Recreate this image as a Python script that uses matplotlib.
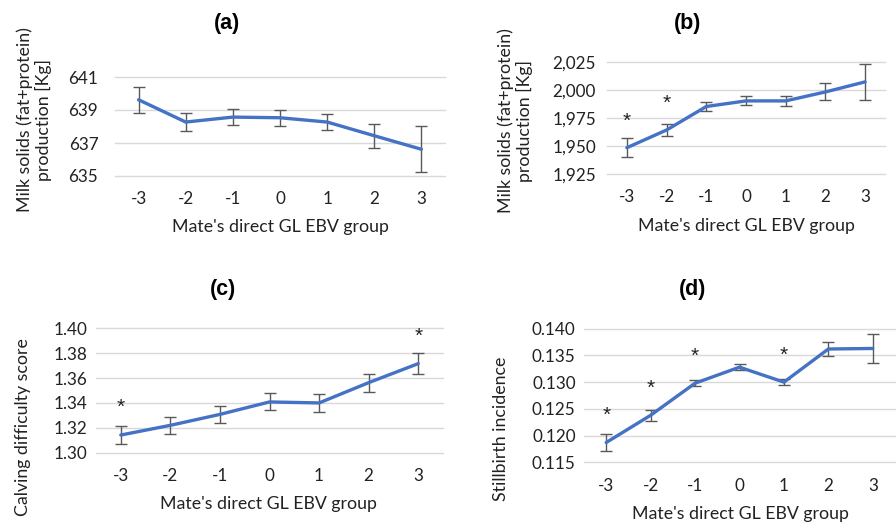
import matplotlib
matplotlib.use("Agg")
import matplotlib.pyplot as plt
import matplotlib.ticker as mticker
import numpy as np

plt.rcParams["font.family"] = ["Lato", "DejaVu Sans"]
plt.rcParams["axes.unicode_minus"] = False

groups = [-3, -2, -1, 0, 1, 2, 3]

# (a) milk solids, first data set
milk_a = [639.62, 638.27, 638.57, 638.53, 638.27, 637.44, 636.62]
milk_a_err = [0.78, 0.55, 0.48, 0.47, 0.50, 0.73, 1.40]

# (b) milk solids, second data set
milk_b = [1948.2, 1964.0, 1985.0, 1990.0, 1990.0, 1998.0, 2007.0]
milk_b_err = [8.3, 5.4, 4.1, 4.0, 4.5, 7.6, 16.0]
milk_b_stars = {-3: 1971.4, -2: 1987.9}

# (c) calving difficulty
calv = [1.3142, 1.3220, 1.3308, 1.3408, 1.3400, 1.3563, 1.3716]
calv_err = [0.0072, 0.0070, 0.0067, 0.0068, 0.0070, 0.0072, 0.0086]
calv_stars = {-3: 1.3362, 3: 1.3938}

# (d) stillbirth
still = [0.1187, 0.1238, 0.1298, 0.1328, 0.1300, 0.1362, 0.1363]
still_err = [0.0016, 0.0010, 0.0006, 0.0006, 0.0006, 0.0014, 0.0028]
still_stars = {-3: 0.1237, -2: 0.1288, -1: 0.1348, 1: 0.1350}

W, H = 896, 523
fig = plt.figure(figsize=(W / 100, H / 100), dpi=100)


def px_axes(x0, y0, x1, y1):
    return fig.add_axes([x0 / W, 1 - y1 / H, (x1 - x0) / W, (y1 - y0) / H])


def panel(ax, y, err, ylim, ticks, fmt, stars, ytick_pad, title, title_xy,
          ylabel, ylabel_xy, xlabel_xy):
    ax.errorbar(groups, y, yerr=err, fmt="none", ecolor="#595959",
                elinewidth=1.0, capsize=4, capthick=1.0, zorder=2)
    ax.plot(groups, y, color="#4472C4", lw=2.4, solid_capstyle="round", zorder=3)
    for g, v in stars.items():
        ax.text(g, v, "*", ha="center", va="center", fontsize=15,
                color="#222222", family="Liberation Sans")
    ax.set_xlim(-3.5, 3.5)
    ax.set_ylim(*ylim)
    ax.set_xticks(groups)
    ax.set_yticks(ticks)
    ax.yaxis.set_major_formatter(mticker.FuncFormatter(fmt))
    ax.tick_params(length=0, labelsize=12.3, colors="#222222")
    ax.tick_params(axis="y", pad=ytick_pad)
    ax.tick_params(axis="x", pad=11)
    for s in ax.spines.values():
        s.set_visible(False)
    ax.yaxis.grid(True, color="#D9D9D9", lw=1.0)
    for gl in ax.yaxis.get_gridlines():
        gl.set_clip_on(False)
    ax.set_axisbelow(True)
    ax.set_xlabel("Mate's direct GL EBV group", fontsize=12.8, color="#222222",
                  va="center", ha="center")
    ax.xaxis.set_label_coords(xlabel_xy[0] / W, 1 - xlabel_xy[1] / H,
                              transform=fig.transFigure)
    ax.set_ylabel(ylabel, fontsize=12.8, color="#222222", va="center",
                  ha="center", multialignment="center", linespacing=1.15)
    ax.yaxis.set_label_coords(ylabel_xy[0] / W, 1 - ylabel_xy[1] / H,
                              transform=fig.transFigure)
    fig.text(title_xy[0] / W, 1 - title_xy[1] / H, title, ha="center",
             va="center", fontsize=15.5, fontweight="bold",
             family="Liberation Sans")


milk_label = "Milk solids (fat+protein)\nproduction [Kg]"

ax_a = px_axes(115, 77, 445, 176)
panel(ax_a, milk_a, milk_a_err, (635, 641), [635, 637, 639, 641],
      lambda v, p: f"{v:.0f}", {}, 12, "(a)", (227, 23),
      milk_label, (34, 120), (280, 227))

ax_b = px_axes(607, 61.7, 885, 173.7)
panel(ax_b, milk_b, milk_b_err, (1925, 2025), [1925, 1950, 1975, 2000, 2025],
      lambda v, p: f"{v:,.0f}", milk_b_stars, 8, "(b)", (688, 23),
      milk_label, (515, 121), (746, 226))

ax_c = px_axes(96, 328.3, 443, 452.7)
panel(ax_c, calv, calv_err, (1.30, 1.40), [1.30, 1.32, 1.34, 1.36, 1.38, 1.40],
      lambda v, p: f"{v:.2f}", calv_stars, 6, "(c)", (223, 290),
      "Calving difficulty score", (23, 427), (268, 504))

ax_d = px_axes(584, 328.7, 895, 462.3)
panel(ax_d, still, still_err, (0.115, 0.140),
      [0.115, 0.120, 0.125, 0.130, 0.135, 0.140],
      lambda v, p: f"{v:.3f}", still_stars, 6, "(d)", (693, 290),
      "Stillbirth incidence", (501, 429), (740, 514))

fig.savefig("out.png", dpi=100, facecolor="white")
